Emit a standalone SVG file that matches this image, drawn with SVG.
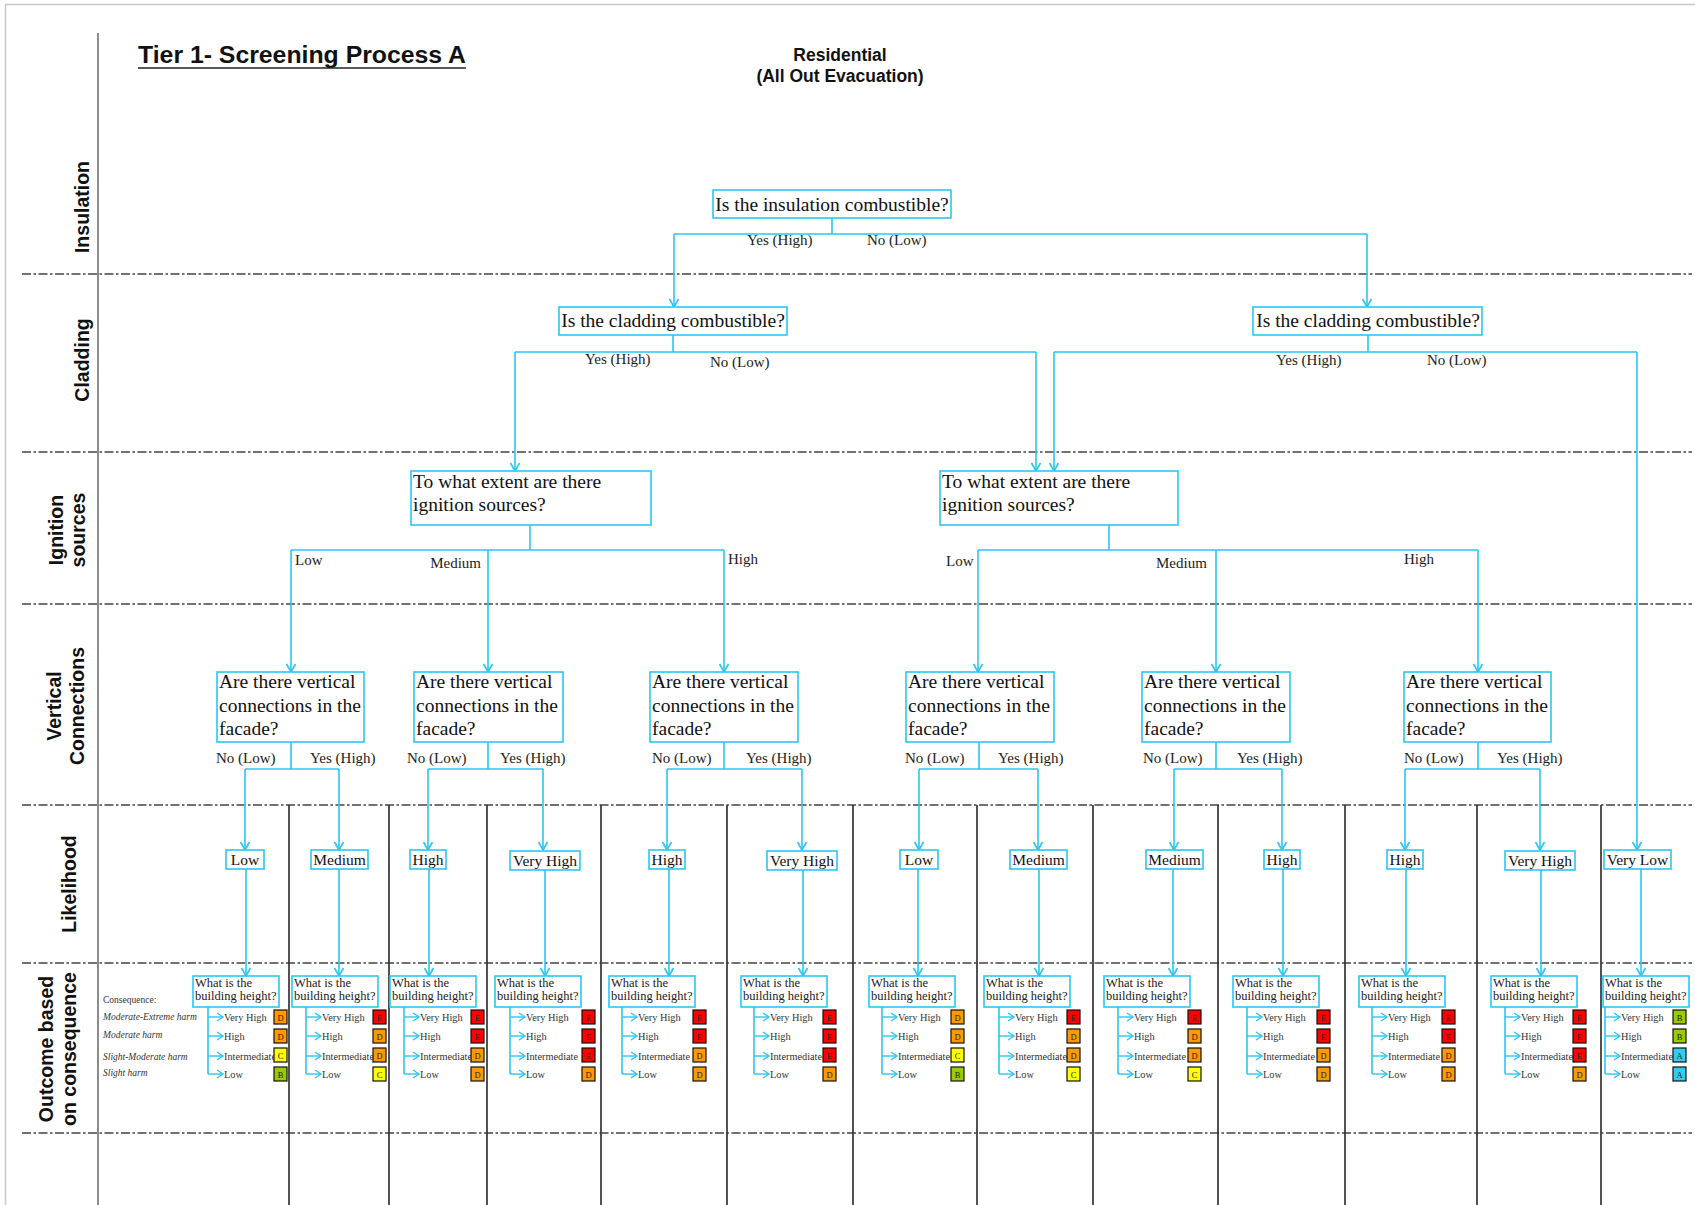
<svg xmlns="http://www.w3.org/2000/svg" width="1695" height="1205" viewBox="0 0 1695 1205">
  <style>
    .q { font-family: "Liberation Serif", "Times New Roman", serif; font-size: 19.5px; fill: #111; }
    .lbl { font-family: "Liberation Serif", "Times New Roman", serif; font-size: 15px; fill: #222; }
    .lk { font-family: "Liberation Serif", "Times New Roman", serif; font-size: 15.5px; fill: #111; text-anchor: middle; }
    .cq { font-family: "Liberation Serif", "Times New Roman", serif; font-size: 12.5px; fill: #222; }
    .br { font-family: "Liberation Serif", "Times New Roman", serif; font-size: 10.3px; fill: #333; }
    .leg { font-family: "Liberation Serif", "Times New Roman", serif; font-size: 9.5px; font-style: italic; fill: #333; }
    .legh { font-family: "Liberation Serif", "Times New Roman", serif; font-size: 9.5px; fill: #333; }
    .sq { font-family: "Liberation Serif", "Times New Roman", serif; font-size: 8.5px; fill: #222; text-anchor: middle; }
    .lane { font-family: "Liberation Sans", Arial, sans-serif; font-size: 19.5px; font-weight: bold; fill: #111; text-anchor: middle; }
    .head { font-family: "Liberation Sans", Arial, sans-serif; font-weight: bold; fill: #111; }
    .box { fill: #fff; stroke: #2BC6F4; stroke-width: 1.6; }
    .wire { fill: none; stroke: #2BC6F4; stroke-width: 1.6; }
    .arr { fill: none; stroke: #2BC6F4; stroke-width: 1.6; marker-end: url(#ah); }
    .arrs { fill: none; stroke: #2BC6F4; stroke-width: 1.4; marker-end: url(#ahs); }
    .sep { stroke: #333; stroke-width: 1.7; }
    .axis { stroke: #666; stroke-width: 1.5; }
    .dash { stroke: #444; stroke-width: 1.6; stroke-dasharray: 9 2.5 2.5 2.5; fill: none; }
    .rate { stroke: #111; stroke-width: 1.2; }
    .sE { fill: #FF0000; } .sD { fill: #FF9900; } .sC { fill: #FFFF00; } .sB { fill: #99CC00; } .sA { fill: #33CCEE; }
  </style>
  <defs>
    <marker id="ah" markerUnits="userSpaceOnUse" markerWidth="12" markerHeight="12" viewBox="-10 -6 12 12" refX="0" refY="0" orient="auto">
      <path d="M-8,-4.5 L0,0 L-8,4.5" fill="none" stroke="#2BC6F4" stroke-width="1.6"/>
    </marker>
    <marker id="ahs" markerUnits="userSpaceOnUse" markerWidth="10" markerHeight="10" viewBox="-8 -5 10 10" refX="0" refY="0" orient="auto">
      <path d="M-6,-4 L0,0 L-6,4" fill="none" stroke="#2BC6F4" stroke-width="1.4"/>
    </marker>
  </defs>

  <rect width="1695" height="1205" fill="#fff"/>
  <!-- page frame -->
  <rect x="5.5" y="4.5" width="1700" height="1210" fill="none" stroke="#c8c8c8" stroke-width="1.5"/>

  <!-- swimlane grid -->
  <g id="grid">
    <line class="axis" x1="98" y1="33" x2="98" y2="1205"/>
    <line class="dash" x1="22" y1="274" x2="1692" y2="274"/>
    <line class="dash" x1="22" y1="452" x2="1692" y2="452"/>
    <line class="dash" x1="22" y1="604" x2="1692" y2="604"/>
    <line class="dash" x1="22" y1="805" x2="1692" y2="805"/>
    <line class="dash" x1="22" y1="963" x2="1692" y2="963"/>
    <line class="dash" x1="22" y1="1133" x2="1692" y2="1133"/>
    <g class="sep">
      <line x1="289" y1="805" x2="289" y2="1205"/>
      <line x1="389" y1="805" x2="389" y2="1205"/>
      <line x1="487" y1="805" x2="487" y2="1205"/>
      <line x1="601" y1="805" x2="601" y2="1205"/>
      <line x1="727" y1="805" x2="727" y2="1205"/>
      <line x1="853" y1="805" x2="853" y2="1205"/>
      <line x1="977" y1="805" x2="977" y2="1205"/>
      <line x1="1093" y1="805" x2="1093" y2="1205"/>
      <line x1="1218" y1="805" x2="1218" y2="1205"/>
      <line x1="1345" y1="805" x2="1345" y2="1205"/>
      <line x1="1477" y1="805" x2="1477" y2="1205"/>
      <line x1="1601" y1="805" x2="1601" y2="1205"/>
    </g>
  </g>

  <!-- headings -->
  <g id="title">
    <text class="head" x="138" y="63" font-size="23" textLength="328" lengthAdjust="spacingAndGlyphs">Tier 1- Screening Process A</text>
    <line x1="138" y1="68" x2="466" y2="68" stroke="#222" stroke-width="1.6"/>
    <text class="head" x="840" y="61" font-size="17.5" text-anchor="middle">Residential</text>
    <text class="head" x="840" y="82" font-size="17.5" text-anchor="middle">(All Out Evacuation)</text>
  </g>

  <!-- lane labels -->
  <g id="lanes">
    <text class="lane" transform="translate(89,207) rotate(-90)">Insulation</text>
    <text class="lane" transform="translate(89,360) rotate(-90)">Cladding</text>
    <text class="lane" transform="translate(63,530) rotate(-90)">Ignition</text>
    <text class="lane" transform="translate(85,530) rotate(-90)">sources</text>
    <text class="lane" transform="translate(61,706) rotate(-90)">Vertical</text>
    <text class="lane" transform="translate(84,706) rotate(-90)">Connections</text>
    <text class="lane" transform="translate(76,884) rotate(-90)">Likelihood</text>
    <text class="lane" transform="translate(53,1049) rotate(-90)">Outcome based</text>
    <text class="lane" transform="translate(76,1049) rotate(-90)">on consequence</text>
  </g>

  <!-- connectors -->
  <g id="connectors">
    <!-- insulation split -->
    <path class="wire" d="M832,218 V234 M674,234 H1367"/>
    <path class="arr" d="M674,234 V307"/>
    <path class="arr" d="M1367,234 V307"/>
    <!-- cladding splits -->
    <path class="wire" d="M673,335 V352 M515,352 H1036"/>
    <path class="arr" d="M515,352 V471"/>
    <path class="arr" d="M1036,352 V471"/>
    <path class="wire" d="M1368,335 V352 M1054,352 H1637"/>
    <path class="arr" d="M1054,352 V471"/>
    <path class="arr" d="M1637,352 V850"/>
    <!-- ignition splits -->
    <path class="wire" d="M530,525 V550 M291,550 H724"/>
    <path class="arr" d="M291,550 V672"/>
    <path class="arr" d="M488,550 V672"/>
    <path class="arr" d="M724,550 V672"/>
    <path class="wire" d="M1109,525 V550 M978,550 H1478"/>
    <path class="arr" d="M978,550 V672"/>
    <path class="arr" d="M1216,550 V672"/>
    <path class="arr" d="M1478,550 V672"/>
    <!-- vertical connection splits -->
    <path class="wire" d="M291,742 V769 M245,769 H339"/>
    <path class="arr" d="M245,769 V850"/>
    <path class="arr" d="M339,769 V850"/>
    <path class="wire" d="M488,742 V769 M428,769 H543"/>
    <path class="arr" d="M428,769 V850"/>
    <path class="arr" d="M543,769 V850"/>
    <path class="wire" d="M724,742 V769 M667,769 H802"/>
    <path class="arr" d="M667,769 V850"/>
    <path class="arr" d="M802,769 V850"/>
    <path class="wire" d="M979,742 V769 M919,769 H1038"/>
    <path class="arr" d="M919,769 V850"/>
    <path class="arr" d="M1038,769 V850"/>
    <path class="wire" d="M1216,742 V769 M1174,769 H1282"/>
    <path class="arr" d="M1174,769 V850"/>
    <path class="arr" d="M1282,769 V850"/>
    <path class="wire" d="M1478,742 V769 M1405,769 H1540"/>
    <path class="arr" d="M1405,769 V850"/>
    <path class="arr" d="M1540,769 V850"/>
    <!-- likelihood to building height -->
    <path class="arr" d="M246,869 V976"/>
    <path class="arr" d="M339,869 V976"/>
    <path class="arr" d="M429,869 V976"/>
    <path class="arr" d="M545,869 V976"/>
    <path class="arr" d="M669,869 V976"/>
    <path class="arr" d="M803,869 V976"/>
    <path class="arr" d="M918,869 V976"/>
    <path class="arr" d="M1039,869 V976"/>
    <path class="arr" d="M1173,869 V976"/>
    <path class="arr" d="M1283,869 V976"/>
    <path class="arr" d="M1406,869 V976"/>
    <path class="arr" d="M1541,869 V976"/>
    <path class="arr" d="M1641,869 V976"/>
    <!-- building height branches -->
    <path class="wire" d="M208,1007 V1074"/><path class="arrs" d="M208,1017 H223"/><path class="arrs" d="M208,1036 H223"/><path class="arrs" d="M208,1056 H223"/><path class="arrs" d="M208,1074 H223"/>
    <path class="wire" d="M306,1007 V1074"/><path class="arrs" d="M306,1017 H321"/><path class="arrs" d="M306,1036 H321"/><path class="arrs" d="M306,1056 H321"/><path class="arrs" d="M306,1074 H321"/>
    <path class="wire" d="M404,1007 V1074"/><path class="arrs" d="M404,1017 H419"/><path class="arrs" d="M404,1036 H419"/><path class="arrs" d="M404,1056 H419"/><path class="arrs" d="M404,1074 H419"/>
    <path class="wire" d="M510,1007 V1074"/><path class="arrs" d="M510,1017 H525"/><path class="arrs" d="M510,1036 H525"/><path class="arrs" d="M510,1056 H525"/><path class="arrs" d="M510,1074 H525"/>
    <path class="wire" d="M622,1007 V1074"/><path class="arrs" d="M622,1017 H637"/><path class="arrs" d="M622,1036 H637"/><path class="arrs" d="M622,1056 H637"/><path class="arrs" d="M622,1074 H637"/>
    <path class="wire" d="M754,1007 V1074"/><path class="arrs" d="M754,1017 H769"/><path class="arrs" d="M754,1036 H769"/><path class="arrs" d="M754,1056 H769"/><path class="arrs" d="M754,1074 H769"/>
    <path class="wire" d="M882,1007 V1074"/><path class="arrs" d="M882,1017 H897"/><path class="arrs" d="M882,1036 H897"/><path class="arrs" d="M882,1056 H897"/><path class="arrs" d="M882,1074 H897"/>
    <path class="wire" d="M999,1007 V1074"/><path class="arrs" d="M999,1017 H1014"/><path class="arrs" d="M999,1036 H1014"/><path class="arrs" d="M999,1056 H1014"/><path class="arrs" d="M999,1074 H1014"/>
    <path class="wire" d="M1118,1007 V1074"/><path class="arrs" d="M1118,1017 H1133"/><path class="arrs" d="M1118,1036 H1133"/><path class="arrs" d="M1118,1056 H1133"/><path class="arrs" d="M1118,1074 H1133"/>
    <path class="wire" d="M1247,1007 V1074"/><path class="arrs" d="M1247,1017 H1262"/><path class="arrs" d="M1247,1036 H1262"/><path class="arrs" d="M1247,1056 H1262"/><path class="arrs" d="M1247,1074 H1262"/>
    <path class="wire" d="M1372,1007 V1074"/><path class="arrs" d="M1372,1017 H1387"/><path class="arrs" d="M1372,1036 H1387"/><path class="arrs" d="M1372,1056 H1387"/><path class="arrs" d="M1372,1074 H1387"/>
    <path class="wire" d="M1505,1007 V1074"/><path class="arrs" d="M1505,1017 H1520"/><path class="arrs" d="M1505,1036 H1520"/><path class="arrs" d="M1505,1056 H1520"/><path class="arrs" d="M1505,1074 H1520"/>
    <path class="wire" d="M1605,1007 V1074"/><path class="arrs" d="M1605,1017 H1620"/><path class="arrs" d="M1605,1036 H1620"/><path class="arrs" d="M1605,1056 H1620"/><path class="arrs" d="M1605,1074 H1620"/>
  </g>

  <!-- branch labels -->
  <g id="branch-labels" class="lbl">
    <text x="747" y="245">Yes (High)</text>
    <text x="867" y="245">No (Low)</text>
    <text x="585" y="364">Yes (High)</text>
    <text x="710" y="367">No (Low)</text>
    <text x="1276" y="365">Yes (High)</text>
    <text x="1427" y="365">No (Low)</text>
    <text x="295" y="565">Low</text>
    <text x="481" y="568" text-anchor="end">Medium</text>
    <text x="728" y="564">High</text>
    <text x="946" y="566">Low</text>
    <text x="1156" y="568">Medium</text>
    <text x="1404" y="564">High</text>
    <text x="216" y="763">No (Low)</text><text x="310" y="763">Yes (High)</text>
    <text x="407" y="763">No (Low)</text><text x="500" y="763">Yes (High)</text>
    <text x="652" y="763">No (Low)</text><text x="746" y="763">Yes (High)</text>
    <text x="905" y="763">No (Low)</text><text x="998" y="763">Yes (High)</text>
    <text x="1143" y="763">No (Low)</text><text x="1237" y="763">Yes (High)</text>
    <text x="1404" y="763">No (Low)</text><text x="1497" y="763">Yes (High)</text>
  </g>

  <!-- question nodes -->
  <g id="q-insulation">
    <rect class="box" x="713" y="190" width="238" height="28"/>
    <text class="q" x="832" y="211" text-anchor="middle">Is the insulation combustible?</text>
  </g>
  <g id="q-cladding-a">
    <rect class="box" x="559" y="307" width="228" height="28"/>
    <text class="q" x="673" y="327" text-anchor="middle">Is the cladding combustible?</text>
  </g>
  <g id="q-cladding-b">
    <rect class="box" x="1253" y="307" width="229" height="28"/>
    <text class="q" x="1368" y="327" text-anchor="middle">Is the cladding combustible?</text>
  </g>
  <g id="q-ignition-a">
    <rect class="box" x="411" y="471" width="240" height="54"/>
    <text class="q" x="413" y="488">To what extent are there</text>
    <text class="q" x="413" y="511">ignition sources?</text>
  </g>
  <g id="q-ignition-b">
    <rect class="box" x="940" y="471" width="238" height="54"/>
    <text class="q" x="942" y="488">To what extent are there</text>
    <text class="q" x="942" y="511">ignition sources?</text>
  </g>
  <g id="q-vertical-1">
    <rect class="box" x="217" y="672" width="147" height="70"/>
    <text class="q" x="219" y="688">Are there vertical</text><text class="q" x="219" y="712">connections in the</text><text class="q" x="219" y="735">facade?</text>
  </g>
  <g id="q-vertical-2">
    <rect class="box" x="414" y="672" width="149" height="70"/>
    <text class="q" x="416" y="688">Are there vertical</text><text class="q" x="416" y="712">connections in the</text><text class="q" x="416" y="735">facade?</text>
  </g>
  <g id="q-vertical-3">
    <rect class="box" x="650" y="672" width="148" height="70"/>
    <text class="q" x="652" y="688">Are there vertical</text><text class="q" x="652" y="712">connections in the</text><text class="q" x="652" y="735">facade?</text>
  </g>
  <g id="q-vertical-4">
    <rect class="box" x="906" y="672" width="148" height="70"/>
    <text class="q" x="908" y="688">Are there vertical</text><text class="q" x="908" y="712">connections in the</text><text class="q" x="908" y="735">facade?</text>
  </g>
  <g id="q-vertical-5">
    <rect class="box" x="1142" y="672" width="148" height="70"/>
    <text class="q" x="1144" y="688">Are there vertical</text><text class="q" x="1144" y="712">connections in the</text><text class="q" x="1144" y="735">facade?</text>
  </g>
  <g id="q-vertical-6">
    <rect class="box" x="1404" y="672" width="147" height="70"/>
    <text class="q" x="1406" y="688">Are there vertical</text><text class="q" x="1406" y="712">connections in the</text><text class="q" x="1406" y="735">facade?</text>
  </g>

  <!-- likelihood nodes -->
  <g id="lk-1"><rect class="box" x="226" y="850" width="38" height="19"/><text class="lk" x="245" y="865">Low</text></g>
  <g id="lk-2"><rect class="box" x="311" y="850" width="57" height="19"/><text class="lk" x="339.5" y="865">Medium</text></g>
  <g id="lk-3"><rect class="box" x="410" y="850" width="36" height="19"/><text class="lk" x="428" y="865">High</text></g>
  <g id="lk-4"><rect class="box" x="510" y="851" width="70" height="19"/><text class="lk" x="545" y="866">Very High</text></g>
  <g id="lk-5"><rect class="box" x="649" y="850" width="36" height="19"/><text class="lk" x="667" y="865">High</text></g>
  <g id="lk-6"><rect class="box" x="767" y="851" width="70" height="19"/><text class="lk" x="802" y="866">Very High</text></g>
  <g id="lk-7"><rect class="box" x="900" y="850" width="38" height="19"/><text class="lk" x="919" y="865">Low</text></g>
  <g id="lk-8"><rect class="box" x="1010" y="850" width="57" height="19"/><text class="lk" x="1038.5" y="865">Medium</text></g>
  <g id="lk-9"><rect class="box" x="1146" y="850" width="57" height="19"/><text class="lk" x="1174.5" y="865">Medium</text></g>
  <g id="lk-10"><rect class="box" x="1264" y="850" width="36" height="19"/><text class="lk" x="1282" y="865">High</text></g>
  <g id="lk-11"><rect class="box" x="1387" y="850" width="36" height="19"/><text class="lk" x="1405" y="865">High</text></g>
  <g id="lk-12"><rect class="box" x="1505" y="851" width="70" height="19"/><text class="lk" x="1540" y="866">Very High</text></g>
  <g id="lk-13"><rect class="box" x="1604" y="850" width="67" height="19"/><text class="lk" x="1637.5" y="865">Very Low</text></g>

  <!-- consequence key -->
  <g id="key">
    <text class="legh" x="103" y="1003">Consequence:</text>
    <text class="leg" x="103" y="1020">Moderate-Extreme harm</text>
    <text class="leg" x="103" y="1038">Moderate harm</text>
    <text class="leg" x="103" y="1060">Slight-Moderate harm</text>
    <text class="leg" x="103" y="1076">Slight harm</text>
  </g>

  <!-- building height nodes with ratings -->
  <g id="bh-1">
    <rect class="box" x="193" y="976" width="86" height="31"/>
    <text class="cq" x="195" y="987">What is the</text><text class="cq" x="195" y="1000">building height?</text>
    <text class="br" x="224" y="1020.5">Very High</text><text class="br" x="224" y="1039.5">High</text><text class="br" x="224" y="1059.5">Intermediate</text><text class="br" x="224" y="1077.5">Low</text>
    <rect class="rate sD" x="274" y="1010" width="13" height="14"/><text class="sq" x="280.5" y="1020.5">D</text>
    <rect class="rate sD" x="274" y="1029" width="13" height="14"/><text class="sq" x="280.5" y="1039.5">D</text>
    <rect class="rate sC" x="274" y="1048" width="13" height="14"/><text class="sq" x="280.5" y="1058.5">C</text>
    <rect class="rate sB" x="274" y="1067" width="13" height="14"/><text class="sq" x="280.5" y="1077.5">B</text>
  </g>
  <g id="bh-2">
    <rect class="box" x="292" y="976" width="86" height="31"/>
    <text class="cq" x="294" y="987">What is the</text><text class="cq" x="294" y="1000">building height?</text>
    <text class="br" x="322" y="1020.5">Very High</text><text class="br" x="322" y="1039.5">High</text><text class="br" x="322" y="1059.5">Intermediate</text><text class="br" x="322" y="1077.5">Low</text>
    <rect class="rate sE" x="373" y="1010" width="13" height="14"/><text class="sq" x="379.5" y="1020.5">E</text>
    <rect class="rate sD" x="373" y="1029" width="13" height="14"/><text class="sq" x="379.5" y="1039.5">D</text>
    <rect class="rate sD" x="373" y="1048" width="13" height="14"/><text class="sq" x="379.5" y="1058.5">D</text>
    <rect class="rate sC" x="373" y="1067" width="13" height="14"/><text class="sq" x="379.5" y="1077.5">C</text>
  </g>
  <g id="bh-3">
    <rect class="box" x="390" y="976" width="86" height="31"/>
    <text class="cq" x="392" y="987">What is the</text><text class="cq" x="392" y="1000">building height?</text>
    <text class="br" x="420" y="1020.5">Very High</text><text class="br" x="420" y="1039.5">High</text><text class="br" x="420" y="1059.5">Intermediate</text><text class="br" x="420" y="1077.5">Low</text>
    <rect class="rate sE" x="471" y="1010" width="13" height="14"/><text class="sq" x="477.5" y="1020.5">E</text>
    <rect class="rate sE" x="471" y="1029" width="13" height="14"/><text class="sq" x="477.5" y="1039.5">E</text>
    <rect class="rate sD" x="471" y="1048" width="13" height="14"/><text class="sq" x="477.5" y="1058.5">D</text>
    <rect class="rate sD" x="471" y="1067" width="13" height="14"/><text class="sq" x="477.5" y="1077.5">D</text>
  </g>
  <g id="bh-4">
    <rect class="box" x="495" y="976" width="86" height="31"/>
    <text class="cq" x="497" y="987">What is the</text><text class="cq" x="497" y="1000">building height?</text>
    <text class="br" x="526" y="1020.5">Very High</text><text class="br" x="526" y="1039.5">High</text><text class="br" x="526" y="1059.5">Intermediate</text><text class="br" x="526" y="1077.5">Low</text>
    <rect class="rate sE" x="582" y="1010" width="13" height="14"/><text class="sq" x="588.5" y="1020.5">E</text>
    <rect class="rate sE" x="582" y="1029" width="13" height="14"/><text class="sq" x="588.5" y="1039.5">E</text>
    <rect class="rate sE" x="582" y="1048" width="13" height="14"/><text class="sq" x="588.5" y="1058.5">E</text>
    <rect class="rate sD" x="582" y="1067" width="13" height="14"/><text class="sq" x="588.5" y="1077.5">D</text>
  </g>
  <g id="bh-5">
    <rect class="box" x="609" y="976" width="86" height="31"/>
    <text class="cq" x="611" y="987">What is the</text><text class="cq" x="611" y="1000">building height?</text>
    <text class="br" x="638" y="1020.5">Very High</text><text class="br" x="638" y="1039.5">High</text><text class="br" x="638" y="1059.5">Intermediate</text><text class="br" x="638" y="1077.5">Low</text>
    <rect class="rate sE" x="693" y="1010" width="13" height="14"/><text class="sq" x="699.5" y="1020.5">E</text>
    <rect class="rate sE" x="693" y="1029" width="13" height="14"/><text class="sq" x="699.5" y="1039.5">E</text>
    <rect class="rate sD" x="693" y="1048" width="13" height="14"/><text class="sq" x="699.5" y="1058.5">D</text>
    <rect class="rate sD" x="693" y="1067" width="13" height="14"/><text class="sq" x="699.5" y="1077.5">D</text>
  </g>
  <g id="bh-6">
    <rect class="box" x="741" y="976" width="86" height="31"/>
    <text class="cq" x="743" y="987">What is the</text><text class="cq" x="743" y="1000">building height?</text>
    <text class="br" x="770" y="1020.5">Very High</text><text class="br" x="770" y="1039.5">High</text><text class="br" x="770" y="1059.5">Intermediate</text><text class="br" x="770" y="1077.5">Low</text>
    <rect class="rate sE" x="823" y="1010" width="13" height="14"/><text class="sq" x="829.5" y="1020.5">E</text>
    <rect class="rate sE" x="823" y="1029" width="13" height="14"/><text class="sq" x="829.5" y="1039.5">E</text>
    <rect class="rate sE" x="823" y="1048" width="13" height="14"/><text class="sq" x="829.5" y="1058.5">E</text>
    <rect class="rate sD" x="823" y="1067" width="13" height="14"/><text class="sq" x="829.5" y="1077.5">D</text>
  </g>
  <g id="bh-7">
    <rect class="box" x="869" y="976" width="86" height="31"/>
    <text class="cq" x="871" y="987">What is the</text><text class="cq" x="871" y="1000">building height?</text>
    <text class="br" x="898" y="1020.5">Very High</text><text class="br" x="898" y="1039.5">High</text><text class="br" x="898" y="1059.5">Intermediate</text><text class="br" x="898" y="1077.5">Low</text>
    <rect class="rate sD" x="951" y="1010" width="13" height="14"/><text class="sq" x="957.5" y="1020.5">D</text>
    <rect class="rate sD" x="951" y="1029" width="13" height="14"/><text class="sq" x="957.5" y="1039.5">D</text>
    <rect class="rate sC" x="951" y="1048" width="13" height="14"/><text class="sq" x="957.5" y="1058.5">C</text>
    <rect class="rate sB" x="951" y="1067" width="13" height="14"/><text class="sq" x="957.5" y="1077.5">B</text>
  </g>
  <g id="bh-8">
    <rect class="box" x="984" y="976" width="86" height="31"/>
    <text class="cq" x="986" y="987">What is the</text><text class="cq" x="986" y="1000">building height?</text>
    <text class="br" x="1015" y="1020.5">Very High</text><text class="br" x="1015" y="1039.5">High</text><text class="br" x="1015" y="1059.5">Intermediate</text><text class="br" x="1015" y="1077.5">Low</text>
    <rect class="rate sE" x="1067" y="1010" width="13" height="14"/><text class="sq" x="1073.5" y="1020.5">E</text>
    <rect class="rate sD" x="1067" y="1029" width="13" height="14"/><text class="sq" x="1073.5" y="1039.5">D</text>
    <rect class="rate sD" x="1067" y="1048" width="13" height="14"/><text class="sq" x="1073.5" y="1058.5">D</text>
    <rect class="rate sC" x="1067" y="1067" width="13" height="14"/><text class="sq" x="1073.5" y="1077.5">C</text>
  </g>
  <g id="bh-9">
    <rect class="box" x="1104" y="976" width="86" height="31"/>
    <text class="cq" x="1106" y="987">What is the</text><text class="cq" x="1106" y="1000">building height?</text>
    <text class="br" x="1134" y="1020.5">Very High</text><text class="br" x="1134" y="1039.5">High</text><text class="br" x="1134" y="1059.5">Intermediate</text><text class="br" x="1134" y="1077.5">Low</text>
    <rect class="rate sE" x="1188" y="1010" width="13" height="14"/><text class="sq" x="1194.5" y="1020.5">E</text>
    <rect class="rate sD" x="1188" y="1029" width="13" height="14"/><text class="sq" x="1194.5" y="1039.5">D</text>
    <rect class="rate sD" x="1188" y="1048" width="13" height="14"/><text class="sq" x="1194.5" y="1058.5">D</text>
    <rect class="rate sC" x="1188" y="1067" width="13" height="14"/><text class="sq" x="1194.5" y="1077.5">C</text>
  </g>
  <g id="bh-10">
    <rect class="box" x="1233" y="976" width="86" height="31"/>
    <text class="cq" x="1235" y="987">What is the</text><text class="cq" x="1235" y="1000">building height?</text>
    <text class="br" x="1263" y="1020.5">Very High</text><text class="br" x="1263" y="1039.5">High</text><text class="br" x="1263" y="1059.5">Intermediate</text><text class="br" x="1263" y="1077.5">Low</text>
    <rect class="rate sE" x="1317" y="1010" width="13" height="14"/><text class="sq" x="1323.5" y="1020.5">E</text>
    <rect class="rate sE" x="1317" y="1029" width="13" height="14"/><text class="sq" x="1323.5" y="1039.5">E</text>
    <rect class="rate sD" x="1317" y="1048" width="13" height="14"/><text class="sq" x="1323.5" y="1058.5">D</text>
    <rect class="rate sD" x="1317" y="1067" width="13" height="14"/><text class="sq" x="1323.5" y="1077.5">D</text>
  </g>
  <g id="bh-11">
    <rect class="box" x="1359" y="976" width="86" height="31"/>
    <text class="cq" x="1361" y="987">What is the</text><text class="cq" x="1361" y="1000">building height?</text>
    <text class="br" x="1388" y="1020.5">Very High</text><text class="br" x="1388" y="1039.5">High</text><text class="br" x="1388" y="1059.5">Intermediate</text><text class="br" x="1388" y="1077.5">Low</text>
    <rect class="rate sE" x="1442" y="1010" width="13" height="14"/><text class="sq" x="1448.5" y="1020.5">E</text>
    <rect class="rate sE" x="1442" y="1029" width="13" height="14"/><text class="sq" x="1448.5" y="1039.5">E</text>
    <rect class="rate sD" x="1442" y="1048" width="13" height="14"/><text class="sq" x="1448.5" y="1058.5">D</text>
    <rect class="rate sD" x="1442" y="1067" width="13" height="14"/><text class="sq" x="1448.5" y="1077.5">D</text>
  </g>
  <g id="bh-12">
    <rect class="box" x="1491" y="976" width="86" height="31"/>
    <text class="cq" x="1493" y="987">What is the</text><text class="cq" x="1493" y="1000">building height?</text>
    <text class="br" x="1521" y="1020.5">Very High</text><text class="br" x="1521" y="1039.5">High</text><text class="br" x="1521" y="1059.5">Intermediate</text><text class="br" x="1521" y="1077.5">Low</text>
    <rect class="rate sE" x="1573" y="1010" width="13" height="14"/><text class="sq" x="1579.5" y="1020.5">E</text>
    <rect class="rate sE" x="1573" y="1029" width="13" height="14"/><text class="sq" x="1579.5" y="1039.5">E</text>
    <rect class="rate sE" x="1573" y="1048" width="13" height="14"/><text class="sq" x="1579.5" y="1058.5">E</text>
    <rect class="rate sD" x="1573" y="1067" width="13" height="14"/><text class="sq" x="1579.5" y="1077.5">D</text>
  </g>
  <g id="bh-13">
    <rect class="box" x="1603" y="976" width="86" height="31"/>
    <text class="cq" x="1605" y="987">What is the</text><text class="cq" x="1605" y="1000">building height?</text>
    <text class="br" x="1621" y="1020.5">Very High</text><text class="br" x="1621" y="1039.5">High</text><text class="br" x="1621" y="1059.5">Intermediate</text><text class="br" x="1621" y="1077.5">Low</text>
    <rect class="rate sB" x="1673" y="1010" width="13" height="14"/><text class="sq" x="1679.5" y="1020.5">B</text>
    <rect class="rate sB" x="1673" y="1029" width="13" height="14"/><text class="sq" x="1679.5" y="1039.5">B</text>
    <rect class="rate sA" x="1673" y="1048" width="13" height="14"/><text class="sq" x="1679.5" y="1058.5">A</text>
    <rect class="rate sA" x="1673" y="1067" width="13" height="14"/><text class="sq" x="1679.5" y="1077.5">A</text>
  </g>
</svg>
